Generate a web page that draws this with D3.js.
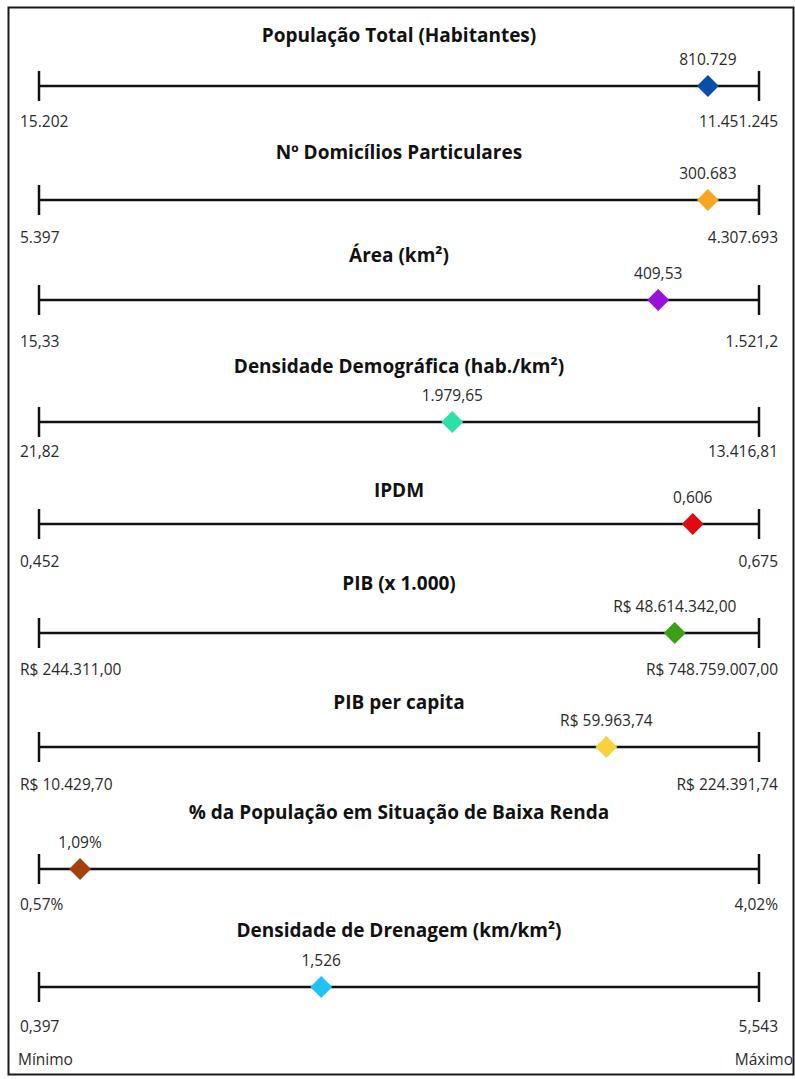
<!DOCTYPE html>
<html lang="pt-BR">
<head>
<meta charset="utf-8">
<script src="https://cdn.jsdelivr.net/npm/d3@7"></script>
<style>
  html, body { margin: 0; padding: 0; background: #fff; }
  svg { display: block; font-family: "Open Sans", "Noto Sans", sans-serif; }
</style>
</head>
<body>
<svg id="chart" width="795" height="1079"></svg>
<script>
// Indicadores do município, comparados com o mínimo e o máximo do conjunto
const indicadores = [
  "População Total (Habitantes)",
  "Nº Domicílios Particulares",
  "Área (km²)",
  "Densidade Demográfica (hab./km²)",
  "IPDM",
  "PIB (x 1.000)",
  "PIB per capita",
  "% da População em Situação de Baixa Renda",
  "Densidade de Drenagem (km/km²)"
];
const valores = [
  "810.729", "300.683", "409,53", "1.979,65", "0,606",
  "R$ 48.614.342,00", "R$ 59.963,74", "1,09%", "1,526"
];
const minimos = [
  "15.202", "5.397", "15,33", "21,82", "0,452",
  "R$ 244.311,00", "R$ 10.429,70", "0,57%", "0,397"
];
const maximos = [
  "11.451.245", "4.307.693", "1.521,2", "13.416,81", "0,675",
  "R$ 748.759.007,00", "R$ 224.391,74", "4,02%", "5,543"
];
// Posição relativa (percentil, 0 = mínimo, 100 = máximo) de cada indicador
const percentis = [92.9, 92.9, 86.0, 57.4, 90.8, 88.3, 78.8, 5.7, 39.2];
const cores = [
  "#0a4ea8", "#f5a623", "#9b0fd8", "#2fe0a6", "#e00b12",
  "#3aa014", "#f8d23c", "#a6400d", "#1ec3f2"
];

// Layout vertical de cada faixa
const linhaY  = [86, 200, 300, 422, 524, 633, 747, 869, 987];
const tituloY = [35, 152, 255, 366, 490, 583, 702, 812, 930];
const extremoY = [122, 238, 342, 452, 562, 670, 785, 905, 1027];

const svg = d3.select("#chart");

// moldura
svg.append("rect")
  .attr("x", 8.5).attr("y", 7.5)
  .attr("width", 785).attr("height", 1067)
  .attr("fill", "none").attr("stroke", "#1a1a1a").attr("stroke-width", 2);

const x = d3.scaleLinear().domain([0, 100]).range([39, 759]);

const rows = svg.selectAll("g.row")
  .data(indicadores.map((t, i) => ({ i, t })))
  .join("g")
  .attr("class", "row");

// título
rows.append("text")
  .attr("x", (x(0) + x(100)) / 2)
  .attr("y", d => tituloY[d.i])
  .attr("dy", "0.35em")
  .attr("text-anchor", "middle")
  .attr("font-size", 19)
  .attr("font-weight", 700)
  .attr("fill", "#111")
  .text(d => d.t);

// eixo
rows.append("line")
  .attr("x1", x(0)).attr("x2", x(100))
  .attr("y1", d => linhaY[d.i]).attr("y2", d => linhaY[d.i])
  .attr("stroke", "#111").attr("stroke-width", 2.5);

[0, 100].forEach(v => {
  rows.append("line")
    .attr("x1", x(v)).attr("x2", x(v))
    .attr("y1", d => linhaY[d.i] - 15).attr("y2", d => linhaY[d.i] + 15)
    .attr("stroke", "#111").attr("stroke-width", 2.5);
});

// marcador
const losango = d3.symbol().type(d3.symbolSquare).size(240);
rows.append("path")
  .attr("d", losango)
  .attr("transform", d => `translate(${x(percentis[d.i])},${linhaY[d.i]}) rotate(45)`)
  .attr("fill", d => cores[d.i]);

// valor do município
rows.append("text")
  .attr("x", d => x(percentis[d.i]))
  .attr("y", d => linhaY[d.i] - 26)
  .attr("dy", "0.35em")
  .attr("text-anchor", "middle")
  .attr("font-size", 15.5)
  .attr("fill", "#2a2a2a")
  .text(d => valores[d.i]);

// mínimo e máximo
rows.append("text")
  .attr("x", 20)
  .attr("y", d => extremoY[d.i])
  .attr("dy", "0.35em")
  .attr("font-size", 15.5)
  .attr("fill", "#2a2a2a")
  .text(d => minimos[d.i]);

rows.append("text")
  .attr("x", 778)
  .attr("y", d => extremoY[d.i])
  .attr("dy", "0.35em")
  .attr("text-anchor", "end")
  .attr("font-size", 15.5)
  .attr("fill", "#2a2a2a")
  .text(d => maximos[d.i]);

// legenda dos extremos
svg.append("text")
  .attr("x", 18).attr("y", 1060).attr("dy", "0.35em")
  .attr("font-size", 15.5).attr("fill", "#2a2a2a")
  .text("Mínimo");
svg.append("text")
  .attr("x", 793).attr("y", 1060).attr("dy", "0.35em")
  .attr("text-anchor", "end")
  .attr("font-size", 15.5).attr("fill", "#2a2a2a")
  .text("Máximo");
</script>
</body>
</html>
